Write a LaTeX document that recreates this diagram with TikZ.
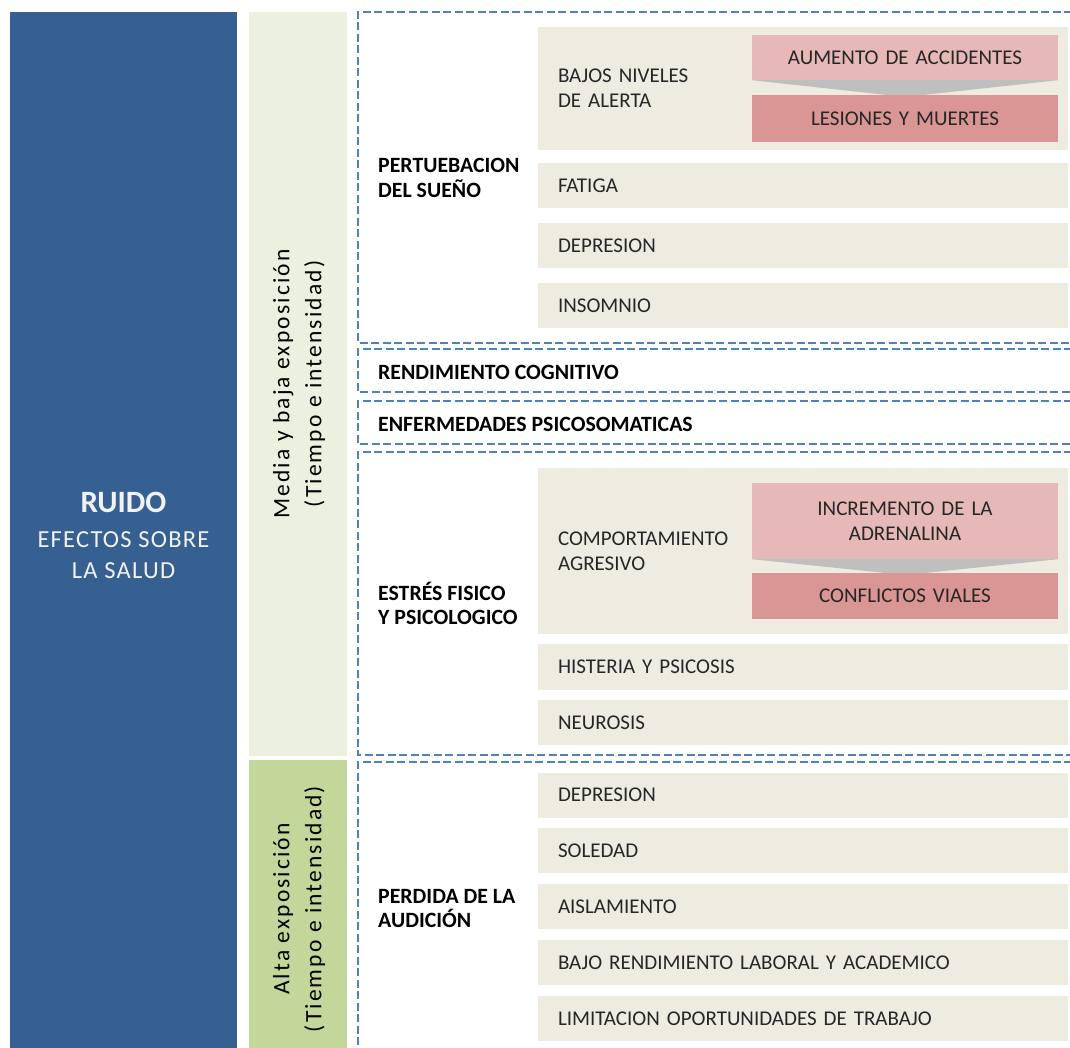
\documentclass[tikz,border=0pt]{standalone}
\usepackage{fontspec}
\setmainfont{Carlito}
\definecolor{ruidoC}{HTML}{366092}
\definecolor{lgreen}{HTML}{EBF1DE}
\definecolor{dgreen}{HTML}{C4D79B}
\definecolor{beigeC}{HTML}{EEECE1}
\definecolor{lpink}{HTML}{E6B9B8}
\definecolor{dpink}{HTML}{D99694}
\definecolor{chev}{HTML}{BFBFBF}
\definecolor{dashC}{HTML}{4F81BD}
\definecolor{txt}{HTML}{262626}
\newcommand{\bodyf}{\fontsize{21}{25}\selectfont}
\newcommand{\labf}{\fontsize{21.8}{24.5}\selectfont\bfseries}
\newcommand{\rotf}{\fontsize{23.5}{32}\selectfont\addfontfeature{LetterSpace=9}}
\tikzset{
  row/.style={fill=beigeC, minimum width=530pt, text width=490pt, inner xsep=20pt, inner ysep=0pt, align=left, font=\bodyf, text=txt, anchor=center},
  pinkA/.style={fill=lpink, minimum width=306pt, text width=296pt, inner xsep=5pt, inner ysep=0pt, align=center, font=\bodyf, text=txt},
  pinkB/.style={fill=dpink, minimum width=306pt, text width=296pt, inner xsep=5pt, inner ysep=0pt, align=center, font=\bodyf, text=txt},
  lab/.style={anchor=west, inner sep=0pt, align=left, font=\labf, text=black},
  dbox/.style={draw=dashC, line width=2.6pt, dash pattern=on 8pt off 3.5pt},
  rot/.style={rotate=90, align=center, font=\rotf, text=black, inner sep=0pt}
}
\begin{document}
\begin{tikzpicture}[x=1pt, y=-1pt]
\useasboundingbox (0,0) rectangle (1070,1048);
\fill[white] (0,0) rectangle (1070,1048);
% left blue box
\node[fill=ruidoC, minimum width=227pt, minimum height=1040pt, inner sep=0pt] (ruidobox) at (123.5,532) {};
\node[font=\fontsize{31}{32}\selectfont\bfseries, text=white!95!black, inner sep=0pt] (ruido) at (123.5,502) {RUIDO};
\node[font=\fontsize{24.5}{31.5}\selectfont\addfontfeature{LetterSpace=5}, text=white!95!black, align=center, inner sep=0pt] (efectos) at (123.5,555) {EFECTOS SOBRE\\LA SALUD};
% green panels
\node[fill=lgreen, minimum width=98pt, minimum height=744pt, inner sep=0pt] (media) at (298,384) {};
\node[rot] (medialab) at (299,384) {Media y baja exposición\\(Tiempo e intensidad)};
\node[fill=dgreen, minimum width=98pt, minimum height=292pt, inner sep=0pt] (alta) at (298,906) {};
\node[rot] (altalab) at (299,909) {Alta exposición\\(Tiempo e intensidad)};
% dashed boxes (open on the right)
\draw[dbox] (1072,12) -| (358,343) -- (1072,343);
\draw[dbox] (1072,349) -| (358,392) -- (1072,392);
\draw[dbox] (1072,401) -| (358,444) -- (1072,444);
\draw[dbox] (1072,452) -| (358,755) -- (1072,755);
\draw[dbox] (1072,762) -| (358,1052);
% section labels
\node[lab] (sueno) at (378,178) {PERTUEBACION\\DEL SUEÑO};
\node[lab] (cogn) at (378,372) {RENDIMIENTO COGNITIVO};
\node[lab] (psico) at (378,424) {ENFERMEDADES PSICOSOMATICAS};
\node[lab] (estres) at (378,603.5) {ESTRÉS FISICO\\Y PSICOLOGICO};
\node[lab] (audic) at (378,908.5) {PERDIDA DE LA\\AUDICIÓN};
% rows
\node[row, minimum height=123pt] (alerta) at (803,88.5) {BAJOS NIVELES\\DE ALERTA};
\node[row, minimum height=45pt] (fatiga) at (803,185.5) {FATIGA};
\node[row, minimum height=45pt] (depre1) at (803,246) {DEPRESION};
\node[row, minimum height=45pt] (insom) at (803,306) {INSOMNIO};
\node[row, minimum height=166pt] (agres) at (803,551) {COMPORTAMIENTO\\AGRESIVO};
\node[row, minimum height=46pt] (hist) at (803,667) {HISTERIA Y PSICOSIS};
\node[row, minimum height=45pt] (neur) at (803,722.5) {NEUROSIS};
\node[row, minimum height=45pt] (depre2) at (803,795) {DEPRESION};
\node[row, minimum height=45pt] (soled) at (803,850.5) {SOLEDAD};
\node[row, minimum height=45pt] (aisl) at (803,906.5) {AISLAMIENTO};
\node[row, minimum height=45pt] (bajo) at (803,962.5) {BAJO RENDIMIENTO LABORAL Y ACADEMICO};
\node[row, minimum height=45pt] (limit) at (803,1018.5) {LIMITACION OPORTUNIDADES DE TRABAJO};
% chevron groups
\node[pinkA, minimum height=45pt] (accid) at (905,57.5) {AUMENTO DE ACCIDENTES};
\fill[chev] (accid.south west) -- (accid.south east) -- (905,97) -- cycle;
\node[pinkB, minimum height=47pt] (lesion) at (905,118.5) {LESIONES Y MUERTES};
\node[pinkA, minimum height=76pt] (adren) at (905,521) {INCREMENTO DE LA\\ADRENALINA};
\fill[chev] (adren.south west) -- (adren.south east) -- (905,575) -- cycle;
\node[pinkB, minimum height=46pt] (confl) at (905,596) {CONFLICTOS VIALES};
\end{tikzpicture}
\end{document}
